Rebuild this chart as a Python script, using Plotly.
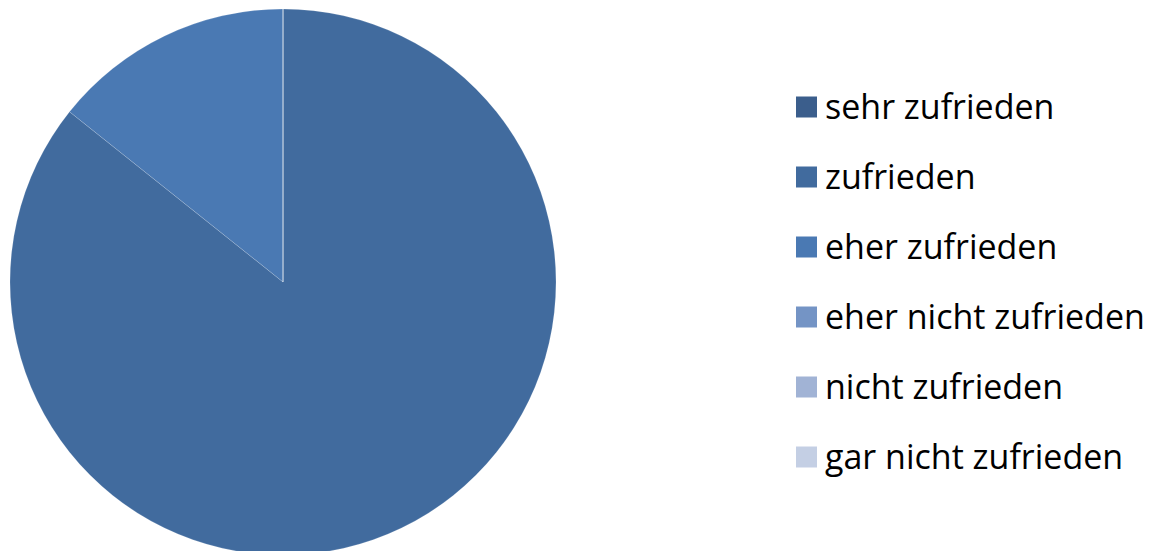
import plotly.graph_objects as go

categories = ["sehr zufrieden", "zufrieden", "eher zufrieden",
              "eher nicht zufrieden", "nicht zufrieden", "gar nicht zufrieden"]
values = [0, 6, 1, 0, 0, 0]
colors = ["#3b5e8c", "#416b9e", "#4a79b3", "#7494c5", "#a1b3d5", "#c4cfe4"]

W, H = 1153, 556
cx, cy, r = 283, 282, 273

fig = go.Figure(go.Pie(
    labels=categories,
    values=values,
    sort=False,
    direction="clockwise",
    rotation=0,
    textinfo="none",
    marker=dict(colors=colors, line=dict(color="rgba(255,255,255,0.15)", width=1)),
    domain=dict(x=[(cx - r) / W, (cx + r) / W],
                y=[(H - (cy + r)) / H, (H - (cy - r)) / H]),
    showlegend=False,
    hoverinfo="label+value+percent",
))

# legend drawn as squares + text
shapes = []
annotations = []
y0, step = 107, 70
for i, (lab, col) in enumerate(zip(categories, colors)):
    yc = y0 + i * step
    shapes.append(dict(type="rect", xref="paper", yref="paper",
                       x0=796 / W, x1=817 / W,
                       y0=1 - (yc + 10.5) / H, y1=1 - (yc - 10.5) / H,
                       fillcolor=col, line=dict(width=0)))
    annotations.append(dict(text=lab, xref="paper", yref="paper",
                            x=823 / W, y=1 - (yc - 1) / H, xanchor="left", yanchor="middle",
                            showarrow=False,
                            font=dict(family="Open Sans", size=34, color="#000000")))

fig.update_layout(
    width=W, height=H,
    margin=dict(l=0, r=0, t=0, b=0),
    paper_bgcolor="white", plot_bgcolor="white",
    shapes=shapes, annotations=annotations,
)

fig.write_html(
    "out.html",
    config={"displayModeBar": False},
    post_script="document.body.style.margin='0';document.body.style.overflow='hidden';",
)
